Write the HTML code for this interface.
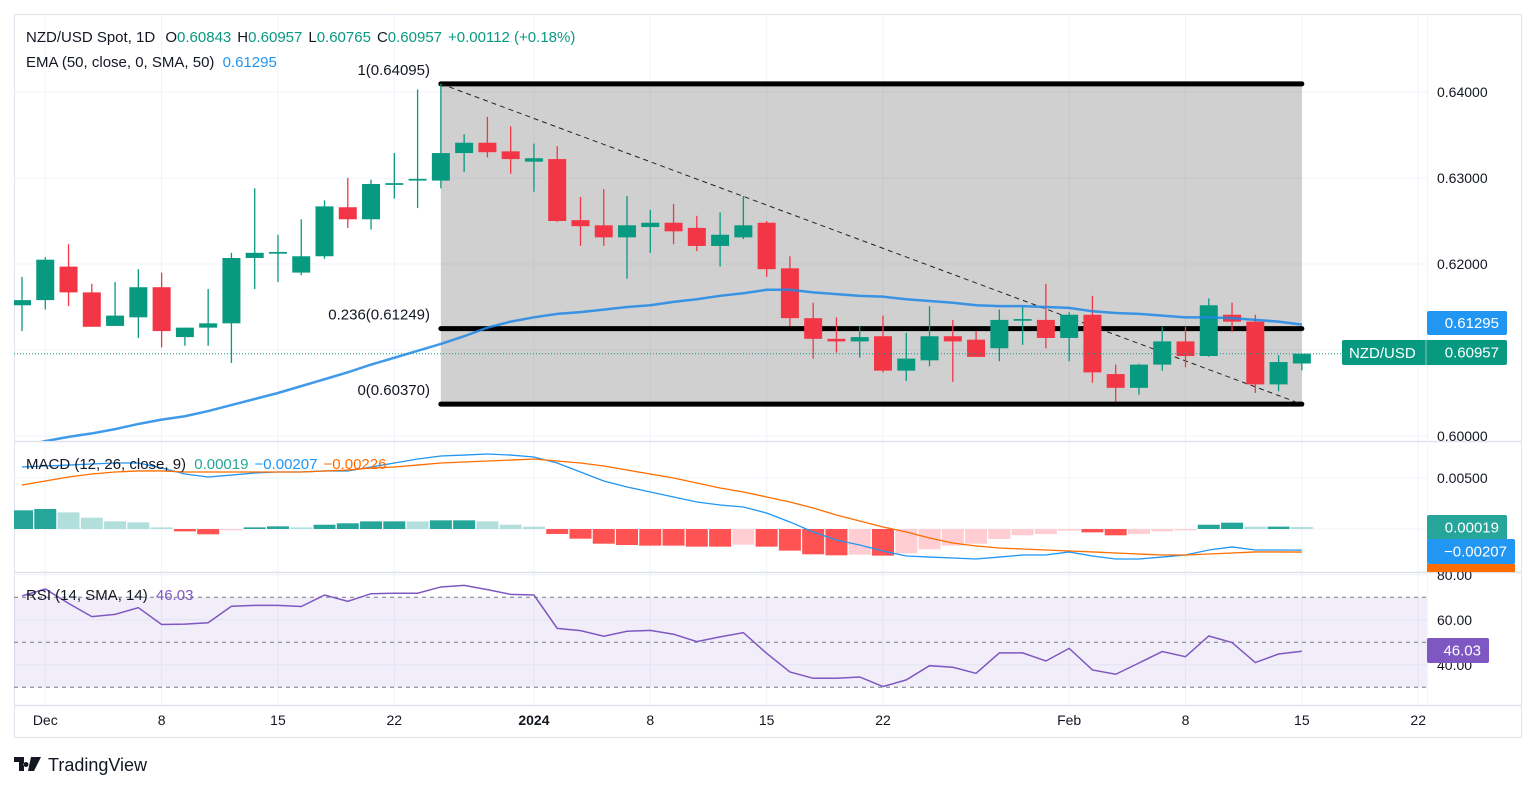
<!DOCTYPE html>
<html><head><meta charset="utf-8"><style>
html,body{margin:0;padding:0;background:#fff;}
svg{display:block;font-family:"Liberation Sans",sans-serif;}
</style></head><body>
<svg id="c" width="1536" height="790" viewBox="0 0 1536 790" xmlns="http://www.w3.org/2000/svg"></svg>
<script>
const opens=[.6152,.6158,.6197,.6167,.6128,.6138,.6173,.6115,.6126,.6131,.6207,.6212,.6190,.6209,.6266,.6252,.6292,.6297,.6297,.6329,.6341,.6331,.6319,.6322,.6251,.6245,.6231,.6243,.6248,.6242,.6221,.6231,.6248,.6195,.6137,.6113,.6110,.6116,.6076,.6088,.6116,.6112,.6102,.6134,.6135,.6114,.6141,.6072,.6056,.6083,.6110,.6093,.6141,.6133,.6060,.60843];
const highs=[.6185,.6208,.6223,.6177,.6179,.6194,.6190,.6126,.6171,.6213,.6288,.6234,.6252,.6274,.6300,.6298,.6329,.6403,.64095,.6351,.6371,.6360,.6340,.6337,.6278,.6287,.6279,.6263,.6270,.6256,.6260,.6279,.6250,.6209,.6155,.6138,.6128,.6140,.6120,.6151,.6135,.6122,.6147,.6150,.6177,.6144,.6163,.6083,.6084,.6127,.6127,.6160,.6155,.6141,.6094,.60957];
const lows=[.6122,.6147,.6151,.6127,.6128,.6114,.6103,.6105,.6105,.6085,.6171,.6179,.6187,.6206,.6242,.6240,.6276,.6265,.6288,.6307,.6324,.6305,.6284,.6249,.6221,.6221,.6183,.6213,.6223,.6215,.6197,.6229,.6185,.6128,.6090,.6097,.6091,.6074,.6064,.6081,.6063,.6092,.6087,.6106,.6102,.6087,.6062,.6040,.6048,.6076,.6080,.6092,.6121,.6050,.6052,.60765];
const closes=[.6158,.6205,.6167,.6127,.6140,.6173,.6122,.6126,.6131,.6207,.6213,.6214,.6209,.6267,.6252,.6293,.6294,.6299,.6329,.6341,.6330,.6322,.6323,.6250,.6244,.6231,.6245,.6248,.6238,.6221,.6234,.6245,.6194,.6137,.6113,.6110,.6115,.6076,.6090,.6116,.6110,.6092,.6135,.6136,.6114,.6141,.6074,.6056,.6083,.6110,.6093,.6152,.6133,.6060,.6086,.60957];
const ema=[.5988,.5994,.5999,.6003,.6008,.6014,.6019,.6023,.6029,.6036,.6043,.6050,.6058,.6066,.6074,.6083,.6091,.6099,.6107,.6116,.6126,.6133,.6138,.6142,.6144,.6147,.6150,.6152,.6156,.6159,.6163,.6166,.6170,.6170,.6167,.6165,.6163,.6162,.6159,.6157,.6155,.6152,.6151,.6151,.6150,.6149,.6145,.6143,.6142,.6140,.6138,.6138,.6137,.6135,.6133,.61295];
const hist=[.00183,.00196,.00163,.00111,.00075,.00065,.00016,-.00023,-.00052,-.00013,.00016,.00026,.00016,.00042,.00056,.00075,.00075,.00074,.00085,.00085,.00075,.00042,.00023,-.00049,-.00095,-.00144,-.00157,-.00163,-.00163,-.00173,-.00173,-.00154,-.00173,-.00212,-.00248,-.00258,-.00252,-.00261,-.00239,-.00199,-.00163,-.00144,-.00098,-.00062,-.00049,-.00016,-.00033,-.00062,-.00049,-.00023,-.00013,.00042,.00062,.00023,.00023,.00019];
const macd=[.00608,.00618,.00627,.00637,.00647,.00647,.00598,.00539,.00510,.00529,.00549,.00559,.00559,.00569,.00569,.00608,.00647,.00686,.00716,.00725,.00735,.00725,.00706,.00647,.00559,.00471,.00412,.00363,.00314,.00265,.00235,.00216,.00157,.00069,-.00029,-.00108,-.00157,-.00216,-.00265,-.00275,-.00284,-.00294,-.00275,-.00255,-.00255,-.00225,-.00265,-.00294,-.00294,-.00275,-.00255,-.00206,-.00176,-.00206,-.00206,-.00207];
const signal=[.00431,.00471,.0051,.00539,.00559,.00569,.00569,.00559,.00559,.00559,.00559,.00559,.00559,.00569,.00578,.00598,.00608,.00627,.00647,.00657,.00667,.00676,.00686,.00667,.00647,.00618,.00578,.00539,.005,.00451,.00402,.00363,.00314,.00265,.00206,.00137,.00078,.0002,-.00029,-.00088,-.00137,-.00167,-.00186,-.00196,-.00206,-.00216,-.00225,-.00235,-.00245,-.00255,-.00255,-.00245,-.00235,-.00225,-.00225,-.00226];
const rsi=[70.6,73.7,67.3,61.4,62.4,65.4,57.9,58.1,58.7,66,66.4,66.4,65.9,71,68.2,71.6,71.8,71.8,74.6,75.3,73.4,71.3,71,56.2,55.2,52.7,54.9,55.3,53.6,50.3,52.4,54.3,45.1,36.8,34,34,34.6,30.3,33.3,39.6,38.9,36.2,45.3,45.3,41.7,47.3,37.7,35.8,40.8,45.9,43.6,52.8,49.9,41,44.8,46.03];
const priceTicks=[0.64,0.63,0.62,0.60];
const priceTickLabels=["0.64000","0.63000","0.62000","0.60000"];
const macdTicks=[0.005];
const macdTickLabels=["0.00500"];
const rsiTicks=[80,60,40];
const rsiTickLabels=["80.00","60.00","40.00"];
const dateBars=[1,6,11,16,22,27,32,37,45,50,55,60];
const dateLabels=["Dec","8","15","22","2024","8","15","22","Feb","8","15","22"];
const fibHigh=0.64095, fibLow=0.60370, fib236=0.61249;
const fibStartBar=18;

const svg=document.getElementById('c');
const NS='http://www.w3.org/2000/svg';
function mk(tag,attrs,parent){const e=document.createElementNS(NS,tag);for(const k in attrs)e.setAttribute(k,attrs[k]);(parent||svg).appendChild(e);return e;}
const X=i=>22+i*23.27;
const Yp=p=>92+(0.64-p)*8600;
const Ym=v=>529-v*10200;
const Yr=v=>642.3-(v-50)*2.25;
const L=14,R=1427,AX=1522;

// frame
let e=mk('rect',{x:14.5,y:14.5,width:1507,height:723,fill:'#fff',stroke:'#e0e3eb'});

// grid
const grid=mk('g',{stroke:'#f0f3fa','stroke-width':1});

dateBars.forEach(b=>{mk('line',{x1:X(b),x2:X(b),y1:15,y2:705},grid);});
priceTicks.forEach(p=>mk('line',{x1:L,x2:R,y1:Yp(p),y2:Yp(p)},grid));
mk('line',{x1:L,x2:R,y1:Yp(0.61),y2:Yp(0.61)},grid);
macdTicks.forEach(v=>mk('line',{x1:L,x2:R,y1:Ym(v),y2:Ym(v)},grid));
mk('line',{x1:L,x2:R,y1:Ym(0),y2:Ym(0)},grid);
rsiTicks.forEach(v=>mk('line',{x1:L,x2:R,y1:Yr(v),y2:Yr(v)},grid));
// pane separators
[441,572,705].forEach(y=>{const s=mk('line',{x1:14,x2:AX,y1:y+.5,y2:y+.5,stroke:'#e0e3eb','stroke-width':1.5});});
e=mk('line',{x1:R+.5,x2:R+.5,y1:15,y2:705,stroke:'#f0f3fa'});

// main pane clip
const defs=mk('defs',{});
const cp=mk('clipPath',{id:'mainclip'},defs);mk('rect',{x:L,y:15,width:R-L,height:426},cp);
const cm=mk('clipPath',{id:'macdclip'},defs);mk('rect',{x:L,y:442,width:R-L,height:130},cm);
const main=mk('g',{'clip-path':'url(#mainclip)'});


// fib box
const fx1=X(fibStartBar),fx2=X(closes.length-1);
e=mk('rect',{x:fx1,y:Yp(fibHigh),width:fx2-fx1,height:Yp(fibLow)-Yp(fibHigh),fill:'rgba(120,120,120,0.35)'},main);

[fibHigh,fib236,fibLow].forEach(p=>{const l=mk('line',{x1:fx1,x2:fx2,y1:Yp(p),y2:Yp(p),stroke:'#000','stroke-width':5,'stroke-linecap':'round'},main);});
e=mk('line',{x1:fx1,y1:Yp(fibHigh),x2:fx2,y2:Yp(fibLow),stroke:'#222','stroke-width':1,'stroke-dasharray':'5,4'},main);


// candles
for(let i=0;i<closes.length;i++){
  const up=closes[i]>=opens[i];const col=up?'#089981':'#f23645';
  const g=mk('g',{},main);
  
  mk('line',{x1:X(i),x2:X(i),y1:Yp(highs[i]),y2:Yp(lows[i]),stroke:col,'stroke-width':1.3},g);
  const t=Yp(Math.max(opens[i],closes[i])),b=Yp(Math.min(opens[i],closes[i]));
  mk('rect',{x:X(i)-9,y:t,width:18,height:Math.max(1.5,b-t),fill:col},g);
}
// EMA
e=mk('polyline',{points:ema.map((v,i)=>X(i)+','+Yp(v)).join(' '),fill:'none',stroke:'#2962ff','stroke-width':2.5,opacity:.85},main);
e.setAttribute('stroke','#1e88e5');

// price line
e=mk('line',{x1:L,x2:R,y1:Yp(closes[closes.length-1]),y2:Yp(closes[closes.length-1]),stroke:'#089981','stroke-dasharray':'1,2'});


// MACD pane
const mg=mk('g',{'clip-path':'url(#macdclip)'});

for(let i=0;i<hist.length;i++){
  const v=hist[i],prev=i>0?hist[i-1]:v;
  let col;
  if(v>=0)col=(v>=prev)?'#26a69a':'#b2dfdb';else col=(v<=prev)?'#ff5252':'#ffcdd2';
  const y0=Ym(0),y1=Ym(v);
  const r=mk('rect',{x:X(i)-11,y:Math.min(y0,y1),width:22,height:Math.max(1,Math.abs(y1-y0)),fill:col},mg);
  
}
e=mk('polyline',{points:macd.map((v,i)=>X(i)+','+Ym(v)).join(' '),fill:'none',stroke:'#2196f3','stroke-width':1.3},mg);

e=mk('polyline',{points:signal.map((v,i)=>X(i)+','+Ym(v)).join(' '),fill:'none',stroke:'#ff6d00','stroke-width':1.3},mg);


// RSI pane
e=mk('rect',{x:L,y:Yr(70),width:R-L,height:Yr(30)-Yr(70),fill:'rgba(126,87,194,0.1)'});

[70,50,30].forEach(v=>{const l=mk('line',{x1:L,x2:R,y1:Yr(v),y2:Yr(v),stroke:'#787b86','stroke-dasharray':'4,4'});});
e=mk('polyline',{points:rsi.map((v,i)=>X(i)+','+Yr(v)).join(' '),fill:'none',stroke:'#7e57c2','stroke-width':1.5});


// text helper
function txt(s,x,y,o){const t=mk('text',Object.assign({x:x,y:y,'font-size':14,fill:'#131722'},o||{}));t.textContent=s;return t;}
// axis labels
priceTicks.forEach((p,i)=>{const t=txt(priceTickLabels[i],1437,Yp(p)+5);});
macdTicks.forEach((v,i)=>{const t=txt(macdTickLabels[i],1437,Ym(v)+5);});
rsiTicks.forEach((v,i)=>{const t=txt(rsiTickLabels[i],1437,Yr(v)+5);});
dateBars.forEach((b,i)=>{const t=txt(dateLabels[i],X(b),725,{'text-anchor':'middle','font-weight':dateLabels[i]=='2024'?'bold':'normal'});});

// badges
function badge(x,y,w,h,col,label,name){const g=mk('g',{});mk('rect',{x:x,y:y,width:w,height:h,rx:2,fill:col},g);const t=txt(label,x+w-8,y+h/2+5,{fill:'#fff','text-anchor':'end','font-size':15});return g;}
badge(1427,311,80,24,'#2196f3','0.61295','ema-price-badge');
const nb=badge(1342,340,165,25,'#089981','0.60957','last-price-badge');
txt('NZD/USD',1349,358,{fill:'#fff','font-size':15});
mk('line',{x1:1426,x2:1426,y1:340,y2:365,stroke:'#fff','stroke-opacity':.5});
badge(1427,515,80,25,'#26a69a','0.00019','histogram-badge');
badge(1427,539,88,25,'#2196f3','\u22120.00207','macd-badge');
e=mk('rect',{x:1427,y:564,width:88,height:8,fill:'#ff6d00'});
badge(1427,638,62,25,'#7e57c2','46.03','rsi-badge');

// legends
let lg=txt('',26,42,{'font-size':15});
lg.innerHTML='NZD/USD Spot, 1D <tspan dx="6">O</tspan><tspan fill="#089981">0.60843</tspan><tspan dx="6">H</tspan><tspan fill="#089981">0.60957</tspan><tspan dx="6">L</tspan><tspan fill="#089981">0.60765</tspan><tspan dx="6">C</tspan><tspan fill="#089981">0.60957</tspan><tspan dx="6" fill="#089981">+0.00112 (+0.18%)</tspan>';
lg=txt('',26,67,{'font-size':15});
lg.innerHTML='EMA (50, close, 0, SMA, 50) <tspan dx="4" fill="#2196f3">0.61295</tspan>';
lg=txt('',26,469,{'font-size':15});
lg.innerHTML='MACD (12, 26, close, 9) <tspan dx="4" fill="#26a69a">0.00019</tspan><tspan dx="6" fill="#2196f3">\u22120.00207</tspan><tspan dx="6" fill="#ff6d00">\u22120.00226</tspan>';
lg=txt('',26,600,{'font-size':15});
lg.innerHTML='RSI (14, SMA, 14) <tspan dx="4" fill="#7e57c2">46.03</tspan>';
// fib labels
[['1(0.64095)',fibHigh],['0.236(0.61249)',fib236],['0(0.60370)',fibLow]].forEach(a=>{const t=txt(a[0],430,Yp(a[1])-9,{'text-anchor':'end','font-size':15});});
// logo
const lgo=mk('g',{});
mk('path',{d:'M14 757h10v14h-5v-9h-5z M26 762a2.5 2.5 0 1 0 0.01 0z M31 757h10l-7 14h-6z',fill:'#131722'},lgo);
txt('TradingView',48,771,{'font-size':18,fill:'#131722'});
</script>
</body></html>
